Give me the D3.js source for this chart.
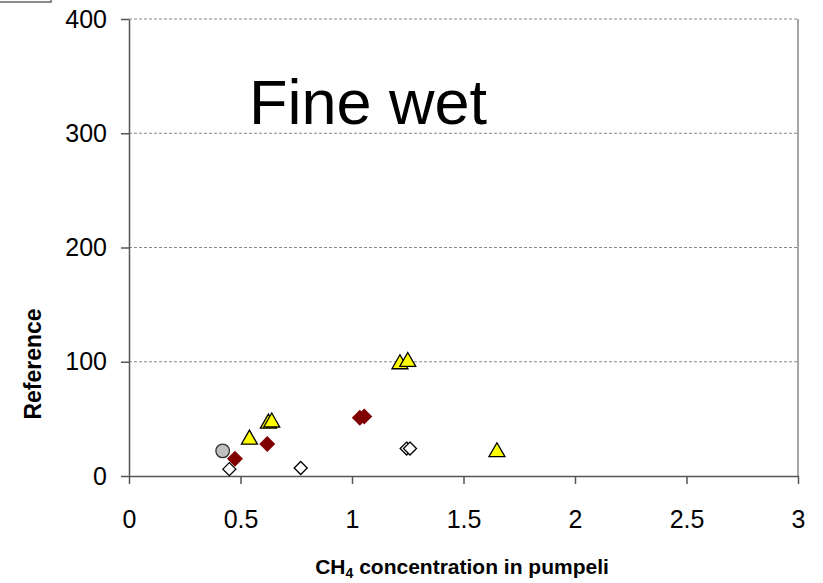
<!DOCTYPE html>
<html><head><meta charset="utf-8">
<script src="https://cdn.jsdelivr.net/npm/d3@7"></script>
<style>
html,body{margin:0;padding:0;background:#fff;}
svg{display:block;font-family:"Liberation Sans",Arial,sans-serif;}
</style></head>
<body>
<svg id="chart" width="823" height="583"></svg>
<script>
// ---- data ----
const xTicks = [0, 0.5, 1, 1.5, 2, 2.5, 3];
const yTicks = [0, 100, 200, 300, 400];
const circleX = [0.42];
const circleY = [22];
const openDiamondX = [0.45, 0.77, 1.245, 1.26];
const openDiamondY = [6, 7, 24, 24];
const redDiamondX = [0.475, 0.62, 1.035, 1.055];
const redDiamondY = [15, 28, 51, 52];
const triangleX = [0.54, 0.625, 0.64, 1.215, 1.25, 1.65];
const triangleY = [34, 48, 49, 100, 102, 23];
const chartTitle = "Fine wet";
const yTitle = "Reference";

const svg = d3.select("#chart");
const m = {left:129, right:798, top:19, bottom:476};
const x = d3.scaleLinear().domain([0,3]).range([m.left, m.right]);
const y = d3.scaleLinear().domain([0,400]).range([m.bottom, m.top]);

// corner artifact (cut-off box)
svg.append("path").attr("d","M0,2H51V0").attr("fill","none").attr("stroke","#666").attr("stroke-width",1.5);

// gridlines
svg.append("g").selectAll("line").data(yTicks.filter(d=>d>0)).join("line")
  .attr("x1",m.left).attr("x2",m.right).attr("y1",d=>y(d)).attr("y2",d=>y(d))
  .attr("stroke","#888").attr("stroke-dasharray","3,2").attr("stroke-width",1);
// right border
svg.append("line").attr("x1",m.right).attr("x2",m.right).attr("y1",m.top).attr("y2",m.bottom)
  .attr("stroke","#888").attr("stroke-width",1.5);

// axes
const xAxis = d3.axisBottom(x).tickValues(xTicks).tickFormat(d3.format("")).tickSizeInner(8).tickSizeOuter(0).tickPadding(26);
const gx = svg.append("g").attr("transform",`translate(0,${m.bottom})`).call(xAxis);
const yAxis = d3.axisLeft(y).tickValues(yTicks).tickSizeInner(8).tickSizeOuter(0).tickPadding(14);
const gy = svg.append("g").attr("transform",`translate(${m.left},0)`).call(yAxis);
[gx,gy].forEach(g=>{
  g.select(".domain").attr("stroke","#555").attr("stroke-width",1.5);
  g.selectAll(".tick line").attr("stroke","#555").attr("stroke-width",1.5);
  g.selectAll(".tick text").attr("fill","#000").style("font-size","25px").style("font-family","'Liberation Sans',Arial,sans-serif");
});

// markers
const g = svg.append("g");
const diamond = r => `M0,${-r}L${r},0L0,${r}L${-r},0Z`;
const tri = (w,h) => `M0,${-h/2}L${w/2},${h/2}L${-w/2},${h/2}Z`;

g.selectAll(".od").data(d3.range(openDiamondX.length)).join("path")
  .attr("d",diamond(6.5)).attr("transform",i=>`translate(${x(openDiamondX[i])},${y(openDiamondY[i])})`)
  .attr("fill","#fff").attr("stroke","#000").attr("stroke-width",1.3);
g.selectAll(".ci").data(d3.range(circleX.length)).join("circle")
  .attr("cx",i=>x(circleX[i])).attr("cy",i=>y(circleY[i])).attr("r",6.8)
  .attr("fill","#c0c0c0").attr("stroke","#333").attr("stroke-width",1.3);
g.selectAll(".rd").data(d3.range(redDiamondX.length)).join("path")
  .attr("d",diamond(8)).attr("transform",i=>`translate(${x(redDiamondX[i])},${y(redDiamondY[i])})`)
  .attr("fill","#800000");
g.selectAll(".tr").data(d3.range(triangleX.length)).join("path")
  .attr("d",tri(16,14)).attr("transform",i=>`translate(${x(triangleX[i])},${y(triangleY[i])})`)
  .attr("fill","#ffff00").attr("stroke","#000").attr("stroke-width",1.3).attr("stroke-linejoin","miter");

// chart title
svg.append("text").attr("x",249).attr("y",124).text(chartTitle)
  .style("font-size","63px").attr("fill","#000");

// axis titles
const xt = svg.append("text").attr("x",462).attr("y",574).attr("text-anchor","middle")
  .style("font-size","21px").style("font-weight","bold");
xt.append("tspan").text("CH");
xt.append("tspan").text("4").style("font-size","14px").attr("dy",4);
xt.append("tspan").text(" concentration in pumpeli").attr("dy",-4);

svg.append("text").attr("transform","translate(41,364) rotate(-90)").attr("text-anchor","middle")
  .style("font-size","23px").style("font-weight","bold").text(yTitle);
</script>
</body></html>
